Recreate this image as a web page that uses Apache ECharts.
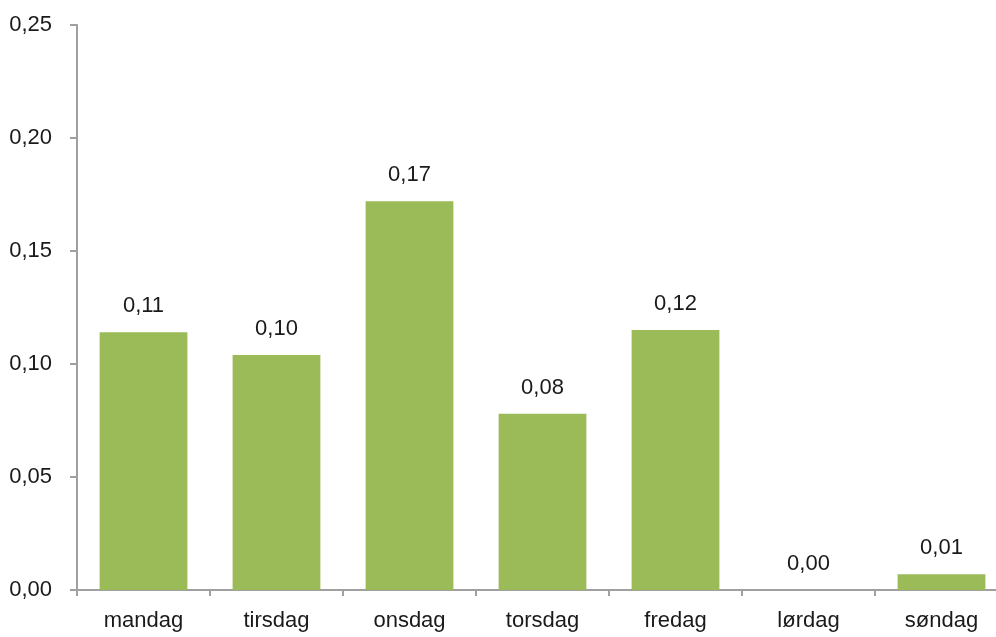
<!DOCTYPE html>
<html>
<head>
<meta charset="utf-8">
<script src="https://cdn.jsdelivr.net/npm/echarts@6/dist/echarts.min.js"></script>
<style>
  html, body { margin: 0; padding: 0; background: #fff; }
  #main { width: 996px; height: 637px; }
</style>
</head>
<body>
<div id="main"></div>
<script>
// ukedager og verdier lest av bildet
const days = ['mandag', 'tirsdag', 'onsdag', 'torsdag', 'fredag', 'lørdag', 'søndag'];
const values = [0.114, 0.104, 0.172, 0.078, 0.115, 0.0, 0.007];
const yTicks = [0, 0.05, 0.10, 0.15, 0.20, 0.25];

const fmt = v => v.toFixed(2).replace('.', ',');
const font = '"Liberation Sans", Arial, sans-serif';
const axisGrey = '#a0a0a0';
const fs = 22;

let chart = echarts.init(document.getElementById('main'));
chart.setOption({
  animation: false,
  grid: { left: 77, top: 25, bottom: 47, right: -12, outerBoundsMode: 'none' },
  xAxis: {
    type: 'category',
    data: days,
    axisLine: { lineStyle: { color: axisGrey, width: 2 } },
    axisTick: { show: true, length: 6, lineStyle: { color: axisGrey, width: 2 } },
    axisLabel: { color: '#1a1a1a', fontSize: fs, fontFamily: font, margin: 20 }
  },
  yAxis: {
    type: 'value',
    min: yTicks[0],
    max: yTicks[yTicks.length - 1],
    interval: 0.05,
    splitLine: { show: false },
    axisLine: { show: true, lineStyle: { color: axisGrey, width: 2 } },
    axisTick: { show: true, length: 7, lineStyle: { color: axisGrey, width: 2 } },
    axisLabel: { color: '#1a1a1a', fontSize: fs, fontFamily: font, margin: 25, formatter: fmt }
  },
  series: [{
    type: 'bar',
    data: values,
    barWidth: '66%',
    itemStyle: { color: '#9bbb59' },
    label: {
      show: true,
      position: 'top',
      distance: 15,
      color: '#1a1a1a',
      fontSize: fs,
      fontFamily: font,
      formatter: p => fmt(p.value)
    }
  }]
});
</script>
</body>
</html>
